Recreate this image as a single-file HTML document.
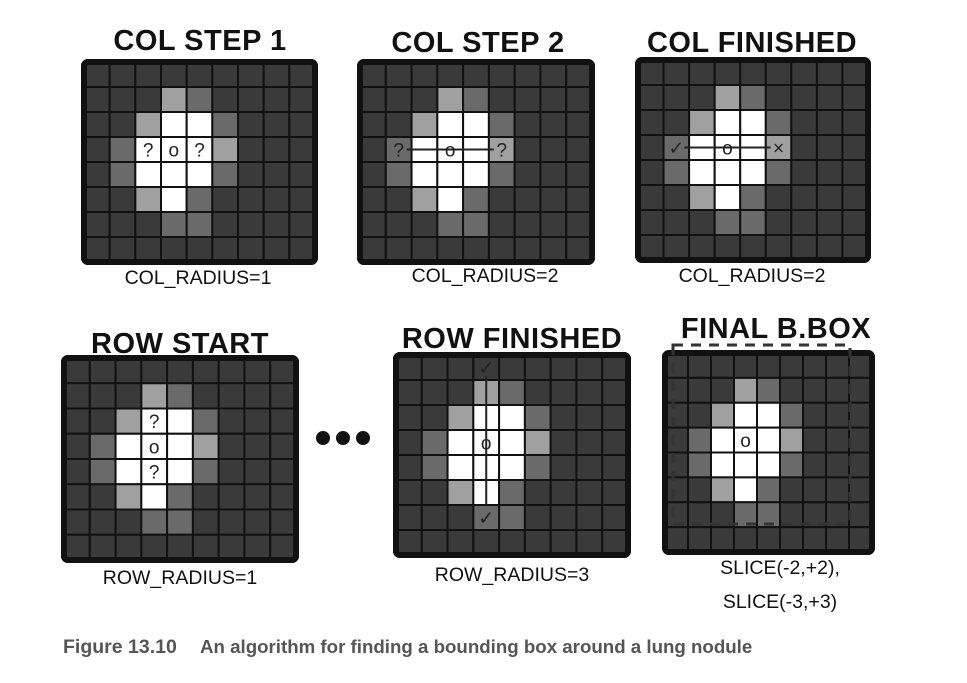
<!DOCTYPE html>
<html><head><meta charset="utf-8"><style>
body{margin:0;background:#fff;}
svg{display:block;font-family:"Liberation Sans",sans-serif;}
.t{font-size:29px;font-weight:bold;fill:#111;letter-spacing:0.5px}
.l{font-size:19.5px;fill:#111}
.m{font-size:19px;fill:#222}
</style></head><body>
<svg id="s" width="967" height="683" xmlns="http://www.w3.org/2000/svg">
<text x="200" y="50" class="t" text-anchor="middle">COL STEP 1</text>
<text x="478" y="52" class="t" text-anchor="middle">COL STEP 2</text>
<text x="752" y="52" class="t" text-anchor="middle">COL FINISHED</text>
<text x="180" y="353" class="t" text-anchor="middle">ROW START</text>
<text x="512" y="348" class="t" text-anchor="middle">ROW FINISHED</text>
<text x="776" y="338" class="t" text-anchor="middle">FINAL B.BOX</text>
<text x="198" y="284" class="l" text-anchor="middle">COL_RADIUS=1</text>
<text x="485" y="282" class="l" text-anchor="middle">COL_RADIUS=2</text>
<text x="752" y="282" class="l" text-anchor="middle">COL_RADIUS=2</text>
<text x="180" y="584" class="l" text-anchor="middle">ROW_RADIUS=1</text>
<text x="512" y="581" class="l" text-anchor="middle">ROW_RADIUS=3</text>
<text x="780" y="574" class="l" text-anchor="middle">SLICE(-2,+2),</text>
<text x="780" y="608" class="l" text-anchor="middle">SLICE(-3,+3)</text>
<g fill="#111"><circle cx="323" cy="438" r="7"/><circle cx="343" cy="438" r="7"/><circle cx="363" cy="438" r="7"/></g>
<text x="63" y="653" font-size="19.5" font-weight="bold" fill="#555">Figure 13.10</text>
<text x="200" y="653" font-size="18.7" font-weight="bold" fill="#555">An algorithm for finding a bounding box around a lung nodule</text>
</svg>
<script>
const grid=[
[0,0,0,0,0,0,0,0,0],
[0,0,0,2,1,0,0,0,0],
[0,0,2,3,3,1,0,0,0],
[0,1,3,3,3,2,0,0,0],
[0,1,3,3,3,1,0,0,0],
[0,0,2,3,1,0,0,0,0],
[0,0,0,1,1,0,0,0,0],
[0,0,0,0,0,0,0,0,0]];
const colors=['#3a3a3a','#6a6a6a','#a0a0a0','#ffffff'];
const panels=[[84,62,231,200],[360,62,232,200],[638,60,230,200],[64,358,232,202],[396,355,232,200],[665,353,207,199]];
const NS='http://www.w3.org/2000/svg';
const svg=document.getElementById('s');
function mk(tag,a,parent){const e=document.createElementNS(NS,tag);for(const k in a)e.setAttribute(k,a[k]);(parent||svg).appendChild(e);return e;}
panels.forEach((p,pi)=>{
 const g=mk('g',{});
 
 
 const [x,y,w,h]=p,cw=w/9,ch=h/8;
 mk('rect',{x:x,y:y,width:w,height:h,fill:'#3a3a3a',stroke:'#111','stroke-width':6,rx:4},g);
 grid.forEach((r,ri)=>r.forEach((v,ci)=>{
  mk('rect',{x:x+ci*cw,y:y+ri*ch,width:cw,height:ch,fill:colors[v],stroke:'#111','stroke-width':2},g);
 }));
 mk('rect',{x:x,y:y,width:w,height:h,fill:'none',stroke:'#111','stroke-width':6,rx:4},g);
 const cx=c=>x+(c+0.5)*cw, cy=r=>y+(r+0.5)*ch+7;
 const t=(s,c,r)=>{const e=mk('text',{x:cx(c),y:cy(r),'text-anchor':'middle',class:'m'},g);e.textContent=s;};
 if(pi==0){t('?',2,3);t('o',3,3);t('?',4,3);}
 if(pi==1){t('?',1,3);t('o',3,3);t('?',5,3);mk('line',{x1:cx(1)+8,y1:cy(3)-7,x2:cx(5)-8,y2:cy(3)-7,stroke:'#222','stroke-width':2},g);}
 if(pi==2){t('✓',1,3);t('o',3,3);t('×',5,3);mk('line',{x1:cx(1)+8,y1:cy(3)-7,x2:cx(5)-8,y2:cy(3)-7,stroke:'#222','stroke-width':2},g);}
 if(pi==3){t('?',3,2);t('o',3,3);t('?',3,4);}
 if(pi==4){t('✓',3,0);t('o',3,3);t('✓',3,6);mk('line',{x1:cx(3),y1:cy(0)+2,x2:cx(3),y2:cy(6)-20,stroke:'#222','stroke-width':2},g);}
 if(pi==5){t('o',3,3);mk('rect',{x:x+8,y:y-8,width:w-30,height:h-20,fill:'none',stroke:'#333','stroke-width':3,'stroke-dasharray':'10 8'},g);}
});
</script>
</body></html>
